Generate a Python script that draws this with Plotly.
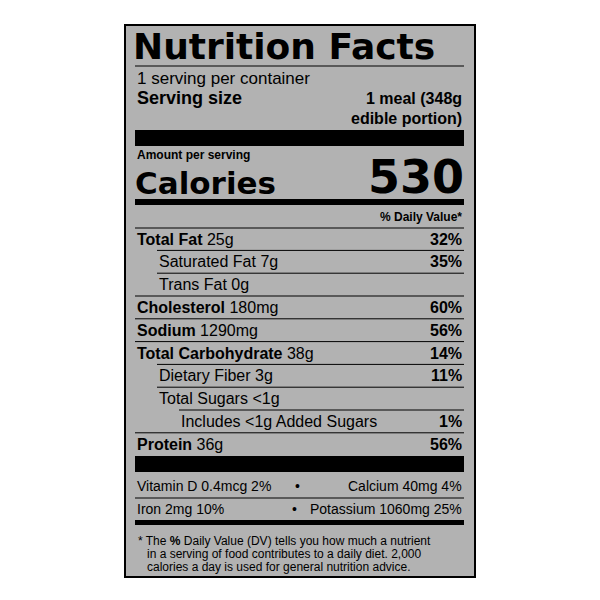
import plotly.graph_objects as go

names = ["Total Fat", "Saturated Fat", "Trans Fat", "Cholesterol", "Sodium",
         "Total Carbohydrate", "Dietary Fiber", "Total Sugars", "Includes <1g Added Sugars", "Protein"]
amounts = ["25g", "7g", "0g", "180mg", "1290mg", "38g", "3g", "<1g", "", "36g"]
percents = ["32%", "35%", "", "60%", "56%", "14%", "11%", "", "1%", "56%"]
bold_rows = [True, False, False, True, True, True, False, False, False, True]
indent = [0, 1, 1, 0, 0, 0, 1, 1, 2, 0]
vitamins_left = ["Vitamin D 0.4mcg 2%", "Iron 2mg 10%"]
vitamins_right = ["Calcium 40mg 4%", "Potassium 1060mg 25%"]
footnote = ["* The <b>%</b> Daily Value (DV) tells you how much a nutrient",
            "in a serving of food contributes to a daily diet. 2,000",
            "calories a day is used for general nutrition advice."]

F = "Liberation Sans, Arial, sans-serif"
FB = "DejaVu Sans, sans-serif"
L, R = 135, 464
shapes, ann = [], []

def text(x, y, s, size, anchor="left", bold=False, fam=F):
    ann.append(dict(x=x, y=y, text=f"<b>{s}</b>" if bold else s, showarrow=False,
                    xanchor=anchor, yanchor="middle", font=dict(family=fam, size=size, color="black")))

def bar(y0, y1, x0=L, x1=R):
    shapes.append(dict(type="rect", x0=x0, x1=x1, y0=y0, y1=y1, fillcolor="black", line_width=0))

def line(y, x0=L):
    shapes.append(dict(type="line", x0=x0, x1=R, y0=y, y1=y, line=dict(color="black", width=1)))

shapes.append(dict(type="rect", x0=125, x1=475, y0=25, y1=577, fillcolor="#b2b2b2",
                   line=dict(color="black", width=2), layer="below"))
text(131, 46, "Nutrition Facts", 36, bold=True, fam=FB)
line(66)
text(L, 78, "1 serving per container", 17)
text(L, 98, "Serving size", 18, bold=True)
text(R, 98, "1 meal (348g", 16, "right", True)
text(R, 118, "edible portion)", 16, "right", True)
bar(130, 146)
text(L, 155, "Amount per serving", 12, bold=True)
text(L - 2, 183, "Calories", 31, bold=True, fam=FB)
text(R + 2, 177, "530", 46, "right", True, fam=FB)
bar(199, 205)
text(R, 217, "% Daily Value*", 12, "right", True)
line(228)

y0, dy = 239, 22.8
for i, n in enumerate(names):
    y = y0 + i * dy
    x = L + indent[i] * 22
    lab = (f"<b>{n}</b>" if bold_rows[i] else n) + (" " + amounts[i] if amounts[i] else "")
    text(x, y, lab, 16)
    if percents[i]:
        text(R, y, percents[i], 16, "right", True)
    if i < len(names) - 1:
        line(y + dy / 2, L + indent[i + 1] * 22 if indent[i + 1] else L)
bar(456, 472)
vy = [486, 509]
for i in range(2):
    text(L, vy[i], vitamins_left[i], 14)
    text(R, vy[i], vitamins_right[i], 14, "right")
    text(297 if i == 0 else 294, vy[i], "•", 14, "center")
line(498)
bar(520, 525)
for i, s in enumerate(footnote):
    text(136 if i == 0 else 145, 541 + i * 13, s, 12)

fig = go.Figure()
fig.update_layout(width=600, height=600, margin=dict(l=0, r=0, t=0, b=0),
                  paper_bgcolor="white", plot_bgcolor="white", shapes=shapes, annotations=ann,
                  xaxis=dict(range=[8, 608], visible=False, fixedrange=True),
                  yaxis=dict(range=[608, 8], visible=False, fixedrange=True), showlegend=False)
fig.write_html("out.html")
